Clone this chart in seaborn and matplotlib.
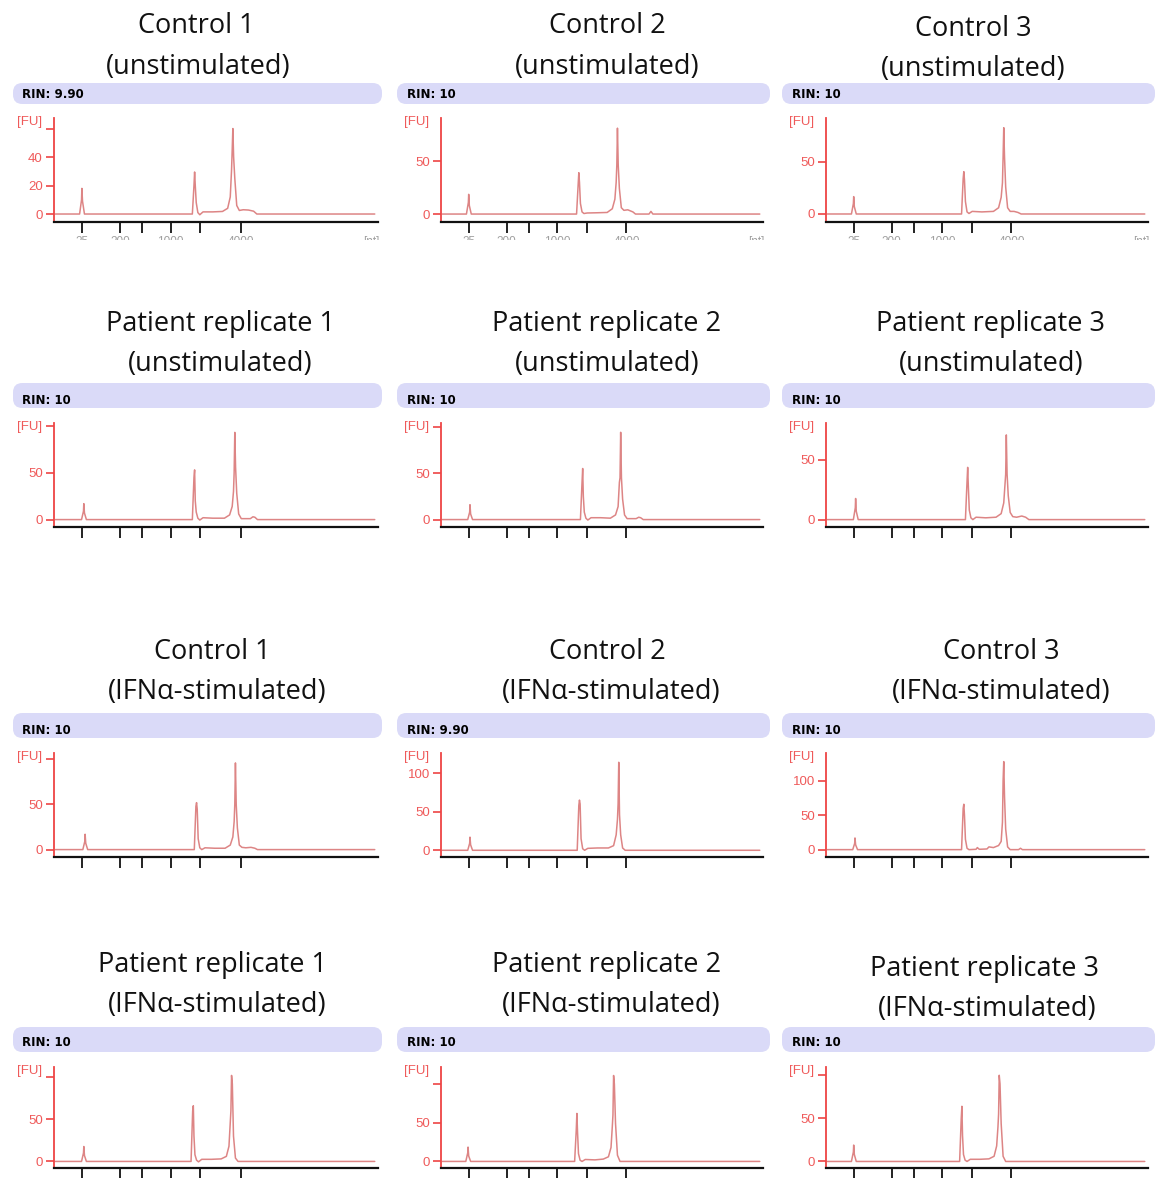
import matplotlib
matplotlib.use("Agg")
import matplotlib.pyplot as plt
from matplotlib.patches import FancyBboxPatch, Rectangle
import seaborn as sns

# ---------------------------------------------------------------------------
# Electropherogram traces: migration time [s] and fluorescence [FU]
# ---------------------------------------------------------------------------
T_CTRL1_UN = [19.2, 22.95, 23.25, 23.3, 23.4, 23.7, 40.35, 40.6, 40.7, 40.8, 40.95, 41.2, 41.5, 42.0, 43.5,
              45.0, 45.8, 46.2, 46.4, 46.5, 46.6, 46.72, 46.9, 47.2, 47.6, 48.2, 49.0, 49.8, 50.3, 68.5]
FU_CTRL1_UN = [0, 0, 10, 18, 9, 0, 0, 20, 29.5, 20, 8, 1, -0.5, 1.5, 1.5,
               1.8, 4, 12, 31, 45, 60, 40, 25, 6, 2.5, 3, 2.8, 2, 0, 0]

T_CTRL2_UN = [19.2, 22.95, 23.25, 23.3, 23.4, 23.7, 40.05, 40.3, 40.4, 40.5, 40.65, 40.9, 41.2, 41.7, 43.2,
              44.8, 45.6, 46.0, 46.2, 46.3, 46.4, 46.52, 46.7, 47.0, 47.4, 48.0, 48.8, 49.2, 51.3, 51.6, 51.9, 68.5]
FU_CTRL2_UN = [0, 0, 11, 18.6, 8, 0, 0, 28, 39, 30, 10, 2, 0.5, 1.0, 1.2,
               1.5, 5, 14, 30, 46, 81, 46, 24, 6, 3.5, 4, 2, 0, 0, 2.5, 0, 0]

T_CTRL3_UN = [19.2, 22.95, 23.25, 23.3, 23.4, 23.7, 40.05, 40.3, 40.4, 40.5, 40.65, 40.9, 41.2, 41.7, 43.2,
              45.0, 45.8, 46.2, 46.4, 46.5, 46.6, 46.72, 46.9, 47.2, 47.6, 48.2, 48.8, 49.3, 68.5]
FU_CTRL3_UN = [0, 0, 10, 16.7, 7, 0, 0, 34, 40.7, 33, 12, 2, 0.5, 2.5, 2.0,
               2.5, 6, 16, 30, 55, 83, 55, 26, 6, 2.5, 2.5, 1.5, 0, 0]

T_PAT1_UN = [19.2, 23.25, 23.55, 23.6, 23.7, 24.0, 40.35, 40.6, 40.7, 40.8, 40.95, 41.2, 41.5, 42.0, 43.5,
             45.3, 46.1, 46.5, 46.7, 46.8, 46.9, 47.02, 47.2, 47.5, 47.9, 49.3, 49.7, 50.0, 50.4, 68.5]
FU_PAT1_UN = [0, 0, 9, 17, 7, 0, 0, 45, 53, 20, 8, 1.5, -0.5, 2, 1.5,
              1.5, 5, 14, 30, 50, 93, 56, 28, 6, 1, 1, 3, 2.5, 0, 0]

T_PAT2_UN = [19.2, 23.15, 23.45, 23.5, 23.6, 23.9, 40.65, 40.9, 41.0, 41.1, 41.25, 41.5, 41.8, 42.3, 43.8,
             45.3, 46.1, 46.5, 46.7, 46.8, 46.9, 47.02, 47.2, 47.5, 47.9, 49.3, 49.7, 50.0, 50.4, 68.5]
FU_PAT2_UN = [0, 0, 8, 16, 6, 0, 0, 40, 55, 25, 8, 1.5, -0.5, 2, 2,
              1.5, 5, 14, 40, 45, 94, 45, 22, 5, 1, 1, 2.5, 2, 0, 0]

T_PAT3_UN = [19.2, 23.25, 23.55, 23.6, 23.7, 24.0, 40.65, 40.9, 41.0, 41.1, 41.25, 41.5, 41.8, 42.3, 43.8,
             45.4, 46.2, 46.6, 46.8, 46.9, 47.0, 47.12, 47.3, 47.6, 48.0, 48.6, 49.4, 50.0, 50.5, 68.5]
FU_PAT3_UN = [0, 0, 10, 17.7, 7, 0, 0, 32, 43.8, 28, 8, 1.5, 0, 2, 1.5,
              2, 5, 14, 30, 38, 71, 38, 20, 6, 2.5, 2, 3, 2, 0, 0]

T_CTRL1_IFN = [19.2, 23.45, 23.75, 23.8, 23.9, 24.2, 40.65, 40.9, 41.0, 41.1, 41.25, 41.5, 41.8, 42.3, 43.8,
               45.4, 46.2, 46.6, 46.8, 46.9, 47.0, 47.12, 47.3, 47.6, 48.0, 48.6, 49.4, 50.0, 50.4, 68.5]
FU_CTRL1_IFN = [0, 0, 9, 17, 7, 0, 0, 48, 52, 45, 12, 2, 0, 2, 1.5,
                1.5, 5, 14, 31, 50, 96, 50, 24, 5, 2.5, 2, 2.5, 1.5, 0, 0]

T_CTRL2_IFN = [19.2, 23.15, 23.45, 23.5, 23.6, 23.9, 40.15, 40.4, 40.5, 40.6, 40.75, 41.0, 41.3, 41.8, 43.3,
               45.0, 45.8, 46.2, 46.4, 46.5, 46.6, 46.72, 46.9, 47.2, 47.6, 68.5]
FU_CTRL2_IFN = [0, 0, 9, 17, 7, 0, 0, 58, 65, 60, 15, 2, 0, 2.5, 3,
                3, 6, 20, 40, 60, 114, 46, 20, 3, 0, 0]

T_CTRL3_IFN = [19.2, 23.15, 23.45, 23.5, 23.6, 23.9, 40.05, 40.3, 40.4, 40.5, 40.65, 40.9, 41.2,
               42.3, 42.5, 42.8, 44.0, 44.3, 45.0, 45.8, 46.2, 46.4, 46.5, 46.6, 46.72, 46.9, 47.2, 47.6,
               48.9, 49.2, 49.5, 68.5]
FU_CTRL3_IFN = [0, 0, 9, 17, 7, 0, 0, 60, 66, 50, 15, 2, 0,
                0.5, 3, 0.5, 1, 4, 3, 6, 12, 40, 100, 128, 77, 30, 4, 0,
                0, 2, 0, 0]

T_PAT1_IFN = [19.2, 23.25, 23.55, 23.6, 23.7, 24.0, 40.15, 40.4, 40.5, 40.6, 40.75, 41.0, 41.3, 41.8, 43.3,
              44.8, 45.6, 46.0, 46.2, 46.3, 46.4, 46.52, 46.7, 47.0, 47.4, 68.5]
FU_PAT1_IFN = [0, 0, 10, 17.7, 7, 0, 0, 60, 66, 30, 8, 1.5, -0.5, 2.5, 2.5,
               3, 6, 18, 46, 60, 102, 92, 30, 4, 0, 0]

T_PAT2_IFN = [19.2, 22.85, 23.15, 23.2, 23.3, 23.6, 39.75, 40.0, 40.1, 40.2, 40.35, 40.6, 40.9, 41.4, 42.9,
              44.2, 45.0, 45.4, 45.6, 45.7, 45.8, 45.92, 46.1, 46.4, 46.8, 68.5]
FU_PAT2_IFN = [0, 0, 11, 18.5, 7, 0, 0, 40, 62, 38, 10, 1.5, 0, 2.5, 2,
               3, 6, 18, 45, 60, 111, 100, 49, 8, 0, 0]

T_PAT3_IFN = [19.2, 22.95, 23.25, 23.3, 23.4, 23.7, 39.75, 40.0, 40.1, 40.2, 40.35, 40.6, 40.9, 41.4, 42.9,
              44.3, 45.1, 45.5, 45.7, 45.8, 45.9, 46.02, 46.2, 46.5, 46.9, 68.5]
FU_PAT3_IFN = [0, 0, 11, 19, 8, 0, 0, 50, 64, 30, 8, 1.5, 0, 2.5, 2.5,
               3, 6, 18, 40, 55, 100, 90, 44, 6, 0, 0]

# Ladder positions on the time axis and their sizes [nt]
LADDER_S = [23.3, 29.2, 32.6, 37.0, 41.6, 47.8]
LADDER_NT = ["25", "200", "500", "1000", "2000", "4000"]
LADDER_NT_SHOWN = ["25", "200", "", "1000", "", "4000"]

TITLES = [
    ("Control 1", "(unstimulated)"), ("Control 2", "(unstimulated)"), ("Control 3", "(unstimulated)"),
    ("Patient replicate 1", "(unstimulated)"), ("Patient replicate 2", "(unstimulated)"),
    ("Patient replicate 3", "(unstimulated)"),
    ("Control 1", "(IFNα-stimulated)"), ("Control 2", "(IFNα-stimulated)"), ("Control 3", "(IFNα-stimulated)"),
    ("Patient replicate 1", "(IFNα-stimulated)"), ("Patient replicate 2", "(IFNα-stimulated)"),
    ("Patient replicate 3", "(IFNα-stimulated)"),
]
RIN = ["9.90", "10", "10", "10", "10", "10", "10", "9.90", "10", "10", "10", "10"]

Y_RANGE = [(-5.6, 67.4), (-7.5, 90.6), (-7.7, 92.3),
           (-7.9, 103), (-8.0, 104), (-6.2, 81),
           (-8.2, 107), (-8.7, 126), (-10.7, 140.5),
           (-7.8, 112), (-8.5, 122), (-7.6, 109.6)]
Y_TICKS = [[0, 20, 40, 60], [0, 50], [0, 50],
           [0, 50, 100], [0, 50, 100], [0, 50],
           [0, 50, 100], [0, 50, 100], [0, 50, 100],
           [0, 50, 100], [0, 50, 100], [0, 50, 100]]
Y_TICK_LABELS = [["0", "20", "40", ""], ["0", "50"], ["0", "50"],
                 ["0", "50", ""], ["0", "50", ""], ["0", "50"],
                 ["0", "50", ""], ["0", "50", "100"], ["0", "50", "100"],
                 ["0", "50", ""], ["0", "50", ""], ["0", "50", ""]]

TRACES = [(T_CTRL1_UN, FU_CTRL1_UN), (T_CTRL2_UN, FU_CTRL2_UN), (T_CTRL3_UN, FU_CTRL3_UN),
          (T_PAT1_UN, FU_PAT1_UN), (T_PAT2_UN, FU_PAT2_UN), (T_PAT3_UN, FU_PAT3_UN),
          (T_CTRL1_IFN, FU_CTRL1_IFN), (T_CTRL2_IFN, FU_CTRL2_IFN), (T_CTRL3_IFN, FU_CTRL3_IFN),
          (T_PAT1_IFN, FU_PAT1_IFN), (T_PAT2_IFN, FU_PAT2_IFN), (T_PAT3_IFN, FU_PAT3_IFN)]

# ---------------------------------------------------------------------------
# Styling and layout (pixel geometry of the 1165 x 1178 canvas)
# ---------------------------------------------------------------------------
sns.set_theme(style="white")
plt.rcParams["font.family"] = ["Liberation Sans", "DejaVu Sans"]

W, H = 1165, 1178
AXIS_RED = "#ee4444"
LABEL_RED = "#ef5a5a"
TRACE = "#dd8585"
BANNER = "#dadaf8"

COL_L = [54, 441, 826]
COL_R = [378, 763, 1148]
ROW_T = [118, 423, 753, 1067]
ROW_B = [222, 527, 857, 1168]
BANNER_X = [(13, 382), (397, 770), (782, 1155)]
BANNER_Y = [(83, 104), (383, 408), (713, 738), (1027, 1052)]
RIN_X = [22, 407, 792]
RIN_Y = [95, 401, 731, 1043]
TITLE_Y = [[(26, 67), (26, 67), (29, 69)],
           [(324, 364), (324, 364), (324, 364)],
           [(652, 692), (652, 692), (652, 692)],
           [(965, 1005), (965, 1005), (969, 1009)]]
TITLE_X = [[(196, 198), (607, 607), (973, 973)],
           [(220, 220), (607, 607), (991, 991)],
           [(212, 217), (607, 611), (1001, 1001)],
           [(213, 217), (607, 611), (984, 987)]]


def fx(x):
    return x / W


def fy(y):
    return 1 - y / H


fig = plt.figure(figsize=(W / 100, H / 100), dpi=100)
fig.patch.set_facecolor("white")

for i in range(12):
    r, c = divmod(i, 3)

    # banner with RIN value
    bx0, bx1 = BANNER_X[c]
    by0, by1 = BANNER_Y[r]
    fig.add_artist(FancyBboxPatch((fx(bx0), fy(by1)), fx(bx1 - bx0), (by1 - by0) / H,
                                  boxstyle="round,pad=0,rounding_size=0.008",
                                  transform=fig.transFigure, facecolor=BANNER,
                                  edgecolor="none", zorder=1))
    fig.text(fx(RIN_X[c]), fy(RIN_Y[r]), f"RIN: {RIN[i]}", fontsize=8.5, color="#000000",
             ha="left", va="center", family=["DejaVu Sans"], weight="bold", zorder=2)

    # two-line panel title
    (y1, y2) = TITLE_Y[r][c]
    (x1, x2) = TITLE_X[r][c]
    fig.text(fx(x1), fy(y1), TITLES[i][0], fontsize=19.5, ha="center", va="center",
             family=["Open Sans", "DejaVu Sans"], color="#111111")
    fig.text(fx(x2), fy(y2), TITLES[i][1], fontsize=19.5, ha="center", va="center",
             family=["Open Sans", "DejaVu Sans"], color="#111111")

    # electropherogram axes
    L, R, T, B = COL_L[c], COL_R[c], ROW_T[r], ROW_B[r]
    ax = fig.add_axes([fx(L), fy(B), (R - L) / W, (B - T) / H])
    t, fu = TRACES[i]
    sns.lineplot(x=t, y=fu, ax=ax, color=TRACE, linewidth=1.1, estimator=None, sort=False)
    ax.set_xlim(19, 69)
    ax.set_ylim(*Y_RANGE[i])
    ax.set_xlabel("")
    ax.set_ylabel("")
    ax.set_facecolor("white")
    for side in ("top", "right"):
        ax.spines[side].set_visible(False)
    ax.spines["left"].set_color(AXIS_RED)
    ax.spines["left"].set_linewidth(1.3)
    ax.spines["bottom"].set_color("#111111")
    ax.spines["bottom"].set_linewidth(1.6)

    ax.set_yticks(Y_TICKS[i])
    ax.set_yticklabels(Y_TICK_LABELS[i])
    ax.tick_params(axis="y", left=True, direction="out", length=6, width=1.2, color=AXIS_RED,
                   labelcolor=LABEL_RED, labelsize=9.5, pad=2)

    ax.set_xticks(LADDER_S)
    if r == 0:
        ax.set_xticklabels(LADDER_NT_SHOWN)
        ax.tick_params(axis="x", labelcolor="#a0a0a0", labelsize=8.5, pad=2.3)
    else:
        ax.set_xticklabels([])
    ax.tick_params(axis="x", bottom=True, direction="out", length=8, width=1.4, color="#222222")

    # fluorescence unit label above the axis
    fig.text(fx(L - 12), fy(T + 4), "[FU]", fontsize=9.5, color=LABEL_RED, ha="right", va="center")
    if r == 0:
        fig.text(fx(R + 2), fy(B + 20), "[nt]", fontsize=8.5, color="#a0a0a0", ha="right", va="center")

# the size labels of the top row are cut off just below their upper edge
fig.add_artist(Rectangle((0, fy(262)), 1, (262 - 240) / H, transform=fig.transFigure,
                         facecolor="white", edgecolor="none", zorder=50))

fig.savefig("out.png", dpi=100)
